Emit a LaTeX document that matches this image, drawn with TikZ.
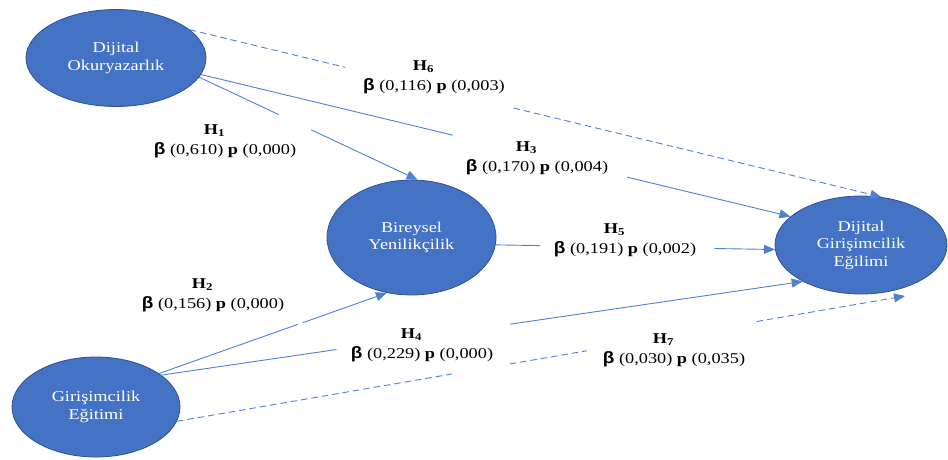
\documentclass[tikz,border=0pt]{standalone}
\usepackage{fontspec}
\setmainfont{Liberation Serif}[FakeStretch=1.22]
\newfontfamily\betafont{Liberation Sans}[FakeStretch=1.15]
\usetikzlibrary{arrows.meta,calc,shapes.geometric}
\definecolor{lineblue}{RGB}{79,129,205}
\definecolor{fillblue}{RGB}{68,114,196}
\definecolor{edgeblue}{RGB}{47,82,143}
\newcommand{\bet}{{\betafont\bfseries\fontsize{16.5}{20}\selectfont β}}
\newcommand{\hyp}[1]{\textbf{H\textsubscript{#1}}\phantom{\textbf{H\textsubscript{#1}}}}
\tikzset{
  construct/.style={ellipse, draw=edgeblue, line width=0.8pt, fill=fillblue, text=white,
    inner sep=0pt, align=center, font=\fontsize{15}{17.5}\selectfont},
  link/.style={draw=lineblue, line width=0.9pt},
  arr/.style={-{Triangle[length=11pt,width=9pt]}},
  dsh/.style={dash pattern=on 6.5pt off 4pt},
  lab/.style={align=center, inner sep=0pt, font=\fontsize{15}{20}\selectfont}
}
\begin{document}
\begin{tikzpicture}[x=1pt,y=-1pt]
\useasboundingbox (0,0) rectangle (948,459);
% constructs
\node[construct, minimum width=180pt, minimum height=97pt] (do) at (116,58) {Dijital\\Okuryazarlık};
\node[construct, minimum width=169pt, minimum height=115pt] (by) at (411.5,237.5) {Bireysel\\Yenilikçilik};
\node[construct, minimum width=172pt, minimum height=98pt] (dge) at (861,245) {Dijital\\Girişimcilik\\Eğilimi};
\node[construct, minimum width=168pt, minimum height=100pt] (ge) at (96,407) {Girişimcilik\\Eğitimi};
\coordinate (h7tip) at (905,296);
% labels
\node[lab] (l1) at (225,141.6) {\hyp{1}\\\bet\ (0,610) \textbf{p} (0,000)};
\node[lab] (l6) at (434,77) {\hyp{6}\\\bet\ (0,116) \textbf{p} (0,003)};
\node[lab] (l3) at (537,158) {\hyp{3}\\\bet\ (0,170) \textbf{p} (0,004)};
\node[lab] (l5) at (625,240) {\hyp{5}\\\bet\ (0,191) \textbf{p} (0,002)};
\node[lab] (l2) at (213,295) {\hyp{2}\\\bet\ (0,156) \textbf{p} (0,000)};
\node[lab] (l4) at (422,345) {\hyp{4}\\\bet\ (0,229) \textbf{p} (0,000)};
\node[lab] (l7) at (674,350) {\hyp{7}\\\bet\ (0,030) \textbf{p} (0,035)};
% H1
\draw[link] (do.-13) -- ($(do.-13)!0.364!(by.84)$);
\draw[link,arr] ($(do.-13)!0.513!(by.84)$) -- (by.84);
% H3
\draw[link] (do.-11) -- ($(do.-11)!0.427!(dge.158)$);
\draw[link,arr] ($(do.-11)!0.723!(dge.158)$) -- (dge.158);
% H6
\draw[link,dsh] (do.21) -- ($(do.21)!0.225!(dge.67)$);
\draw[link,dsh,arr] ($(do.21)!0.468!(dge.67)$) -- (dge.67);
% H5
\draw[link] (by.-5) -- ($(by.-5)!0.159!(dge.183)$);
\draw[link,arr] ($(by.-5)!0.783!(dge.183)$) -- (dge.183);
% H2
\draw[link] (ge.28) -- ($(ge.28)!0.609!(by.-114)$);
\draw[link,arr] ($(ge.28)!0.631!(by.-114)$) -- (by.-114);
% H4
\draw[link] (ge.26) -- ($(ge.26)!0.273!(dge.212)$);
\draw[link,arr] ($(ge.26)!0.544!(dge.212)$) -- (dge.212);
% H7
\draw[link,dsh] (ge.-10) -- ($(ge.-10)!0.378!(h7tip)$);
\draw[link,dsh] ($(ge.-10)!0.457!(h7tip)$) -- ($(ge.-10)!0.563!(h7tip)$);
\draw[link,dsh,arr] ($(ge.-10)!0.796!(h7tip)$) -- (h7tip);
\end{tikzpicture}
\end{document}
